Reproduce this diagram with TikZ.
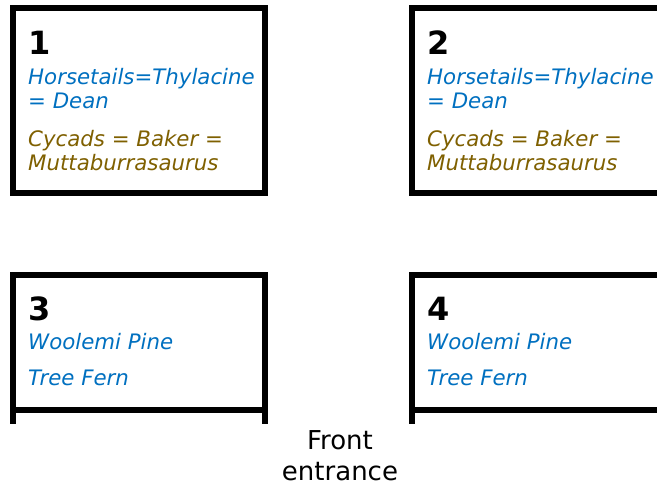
\documentclass[tikz,border=0pt]{standalone}
\usepackage{fontspec}
\setmainfont{DejaVu Sans}
\definecolor{plantblue}{RGB}{0,112,192}
\definecolor{plantbrown}{RGB}{127,96,0}
\begin{document}
\begin{tikzpicture}[x=1pt,y=1pt,
  wall/.style={line width=6pt,line cap=butt,line join=miter},
  num/.style={anchor=base west,inner sep=0pt,font=\fontsize{32}{36}\selectfont\bfseries},
  blue/.style={anchor=base west,inner sep=0pt,text=plantblue,font=\fontsize{21.3}{25}\selectfont\itshape},
  brown/.style={anchor=base west,inner sep=0pt,text=plantbrown,font=\fontsize{21.3}{25}\selectfont\itshape},
  entry/.style={anchor=base,inner sep=0pt,font=\fontsize{26}{30}\selectfont}]
\useasboundingbox (0,0) rectangle (657,-486);
\fill[white] (0,0) rectangle (657,-486);

% room 1
\draw[wall] (13,-8) rectangle (265,-193);
\node[num] (n1) at (28,-55) {1};
\node[blue] (h1a) at (28,-85) {Horsetails=Thylacine};
\node[blue] (h1b) at (28,-109) {= Dean};
\node[brown] (c1a) at (28,-147) {Cycads = Baker =};
\node[brown] (c1b) at (28,-171) {Muttaburrasaurus};

% room 2 (open to the right edge)
\draw[wall] (670,-8) -- (412,-8) -- (412,-193) -- (670,-193);
\node[num] (n2) at (427,-55) {2};
\node[blue] (h2a) at (427,-85) {Horsetails=Thylacine};
\node[blue] (h2b) at (427,-109) {= Dean};
\node[brown] (c2a) at (427,-147) {Cycads = Baker =};
\node[brown] (c2b) at (427,-171) {Muttaburrasaurus};

% room 3
\draw[wall] (13,-424) -- (13,-275) -- (265,-275) -- (265,-424);
\draw[wall] (13,-410) -- (265,-410);
\node[num] (n3) at (28,-321) {3};
\node[blue] (w3) at (28,-350) {Woolemi Pine};
\node[blue] (t3) at (28,-386) {Tree Fern};

% room 4
\draw[wall] (412,-424) -- (412,-275) -- (670,-275);
\draw[wall] (412,-410) -- (670,-410);
\node[num] (n4) at (427,-321) {4};
\node[blue] (w4) at (427,-350) {Woolemi Pine};
\node[blue] (t4) at (427,-386) {Tree Fern};

% entrance label
\node[entry] (fe1) at (340,-450) {Front};
\node[entry] (fe2) at (340,-481) {entrance};
\end{tikzpicture}
\end{document}
